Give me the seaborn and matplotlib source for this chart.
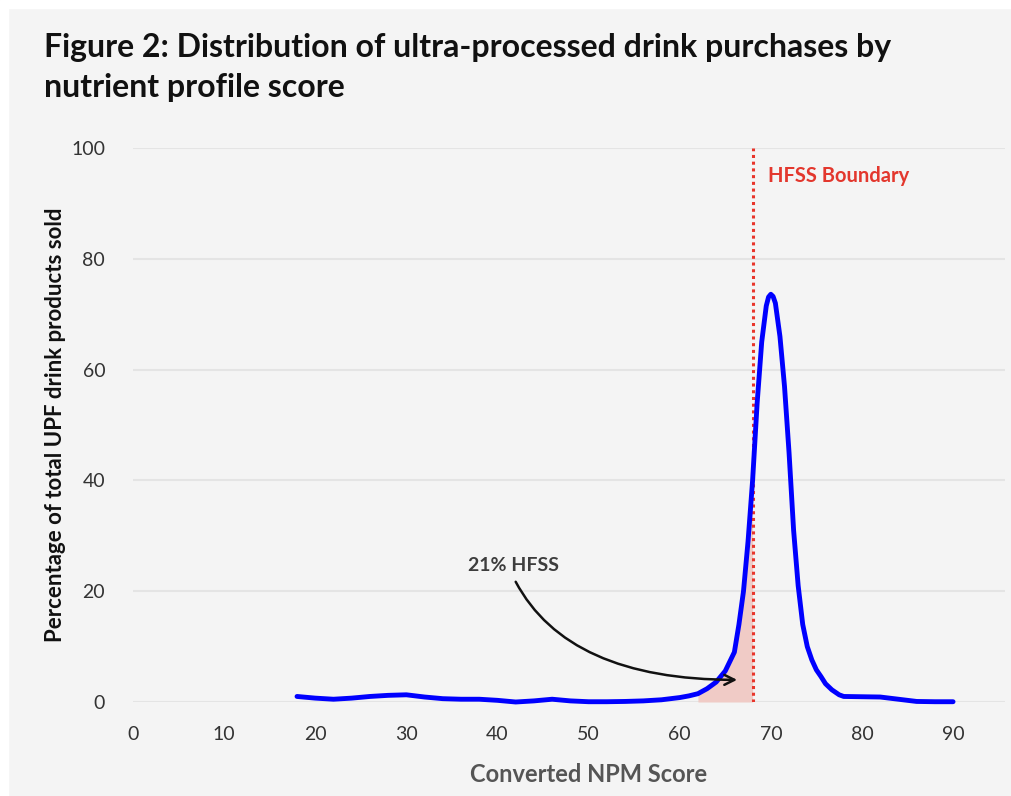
import matplotlib
matplotlib.use('Agg')
import matplotlib.pyplot as plt
from matplotlib.patches import Rectangle
import seaborn as sns
import numpy as np

# converted NPM score and share of UPF drink products sold (%)
npm_score = [18, 20, 22, 24, 26, 28, 30, 32, 34, 36, 38, 40, 42, 44, 46, 48, 50,
             52, 54, 56, 58, 60, 61, 62, 63, 64, 65, 66, 66.5, 67, 67.5, 68, 68.5,
             69, 69.5, 69.75, 70, 70.25, 70.5, 71, 71.5, 72, 72.5, 73, 73.5, 74,
             74.5, 75, 75.5, 76, 76.7, 77.5, 78, 80, 82, 84, 86, 88, 90]
pct_sold = [1.0, 0.7, 0.5, 0.7, 1.0, 1.2, 1.3, 0.9, 0.6, 0.5, 0.5, 0.3, 0.0, 0.2,
            0.5, 0.2, 0.05, 0.05, 0.1, 0.2, 0.4, 0.8, 1.1, 1.5, 2.4, 3.6, 5.6, 9.0,
            14, 20, 29, 40, 54, 65, 71.5, 73.1, 73.6, 73.2, 72, 66, 57, 45, 31, 21,
            14, 10.0, 7.6, 5.8, 4.6, 3.3, 2.2, 1.3, 1.0, 0.95, 0.9, 0.5, 0.1, 0.05,
            0.05]

hfss_boundary = 68
hfss_start = 62
x_ticks = list(range(0, 100, 10))
y_ticks = list(range(0, 120, 20))

bg = '#f4f4f4'
sns.set_style('white', {'axes.facecolor': bg, 'figure.facecolor': bg})
plt.rcParams['font.family'] = ['Lato', 'DejaVu Sans']

fig = plt.figure(figsize=(10.11, 7.96), dpi=100)
fig.patch.set_facecolor(bg)
fig.patches.append(Rectangle((0, 1 - 8 / 796), 1, 8 / 796, transform=fig.transFigure,
                             color='white', zorder=-1))
fig.patches.append(Rectangle((0, 0), 8 / 1011, 1, transform=fig.transFigure,
                             color='white', zorder=-1))

ax = fig.add_axes([133 / 1011, 94 / 796, 872 / 1011, 554 / 796])
ax.set_facecolor(bg)

x = np.array(npm_score)
y = np.array(pct_sold)
mask = (x >= hfss_start) & (x <= hfss_boundary)
ax.fill_between(x[mask], 0, y[mask], color='#f0cbc6', lw=0, zorder=1)

sns.lineplot(x=npm_score, y=pct_sold, ax=ax, color='#0000ff', lw=3.5, zorder=3,
             clip_on=False, solid_joinstyle='round', solid_capstyle='round')

ax.axvline(hfss_boundary, ymin=0, ymax=1, color='#e8352b', ls=(0, (1, 1.2)), lw=2.2,
           zorder=2)
ax.text(69.7, 95, 'HFSS Boundary', color='#e3372d', fontsize=14.5, fontweight='bold',
        ha='left', va='center')

ax.annotate('', xy=(66.3, 4.0), xytext=(42.0, 21.7),
            arrowprops=dict(arrowstyle='->', color='#111111', lw=1.8,
                            connectionstyle='angle3,angleA=-62,angleB=0',
                            shrinkA=0, shrinkB=0, mutation_scale=18), zorder=4)
ax.text(41.8, 24.7, '21% HFSS', color='#3d3d3d', fontsize=14, fontweight='bold',
        ha='center', va='center')

ax.set_xlim(0, 95.7)
ax.set_ylim(0, 100)
ax.set_xticks(x_ticks)
ax.set_yticks(y_ticks)
ax.tick_params(axis='both', length=0, labelsize=14, labelcolor='#333333')
ax.tick_params(axis='x', pad=17)
ax.tick_params(axis='y', pad=20)
ax.grid(axis='y', color='#e4e4e4', lw=1.5)
ax.set_axisbelow(True)
sns.despine(ax=ax, left=True, bottom=True)

ax.set_xlabel('Converted NPM Score', fontsize=17, fontweight='bold', color='#555555')
ax.xaxis.set_label_coords((589 - 133) / 872, -61 / 554)
ax.set_ylabel('Percentage of total UPF drink products sold', fontsize=16,
              fontweight='bold', color='#111111')
ax.yaxis.set_label_coords(-(133 - 66) / 872, 0.5)

fig.text(44 / 1011, 1 - 33 / 796,
         'Figure 2: Distribution of ultra-processed drink purchases by\nnutrient profile score',
         fontsize=23, fontweight='bold', color='#111111', ha='left', va='top',
         linespacing=1.45)

fig.savefig('out.png', dpi=100, facecolor=fig.get_facecolor())
